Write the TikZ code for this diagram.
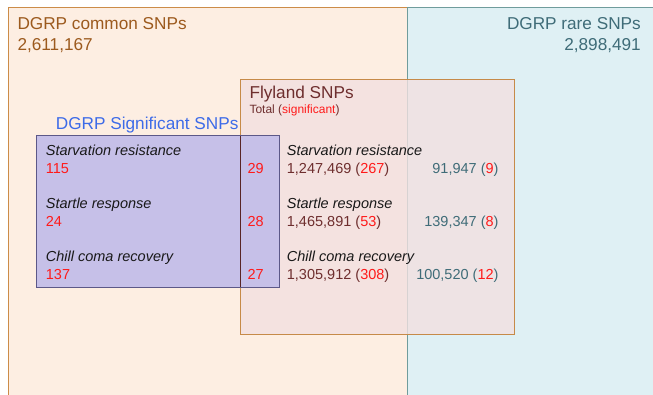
\documentclass[tikz,border=0pt]{standalone}
\usepackage{fontspec}
\setmainfont{Liberation Sans}
\definecolor{commonfill}{HTML}{FDEEE2}
\definecolor{commonedge}{HTML}{CC8C48}
\definecolor{commontext}{HTML}{9C5A1E}
\definecolor{rarefill}{HTML}{DFF0F4}
\definecolor{rareedge}{HTML}{6F9C9C}
\definecolor{raretext}{HTML}{3F6C78}
\definecolor{flyfill}{HTML}{F2E0E0}
\definecolor{flyedge}{HTML}{C68A48}
\definecolor{flytext}{HTML}{6E2E2E}
\definecolor{sigfill}{HTML}{C6C0E8}
\definecolor{sigedge}{HTML}{5C5888}
\definecolor{sigtext}{HTML}{3D6BE8}
\definecolor{sigred}{HTML}{FF1A1A}
\usetikzlibrary{positioning}
\newcommand{\headfont}{\fontsize{17.2}{20}\selectfont}
\newcommand{\midfont}{\fontsize{14.5}{17}\selectfont}
\newcommand{\tinyfont}{\fontsize{12}{14}\selectfont}
\newcommand{\sig}[1]{\textcolor{sigred}{#1}}

\begin{document}
\begin{tikzpicture}[x=1pt, y=-1pt,
  lbl/.style={inner sep=0pt, anchor=base west},
  rlbl/.style={inner sep=0pt, anchor=base east},
  trait/.style={lbl, font=\midfont\itshape, text=black!90},
  count/.style={lbl, font=\midfont, text=sigred},
  flycount/.style={lbl, font=\midfont, text=flytext},
  rarecount/.style={rlbl, font=\midfont, text=raretext}]
\useasboundingbox (0,0) rectangle (653,395);
\clip (0,0) rectangle (653,395);

% the two DGRP sets
\draw[commonedge, fill=commonfill, line width=1pt] (8,8) rectangle (407,402);
\draw[rareedge, fill=rarefill, line width=1pt] (407,8) rectangle (662,402);
\node[lbl, font=\headfont, text=commontext] (common) at (17.3,29.3) {DGRP common SNPs};
\node[lbl, font=\headfont, text=commontext] (commonn) at (17.3,50.7) {2,611,167};
\node[rlbl, font=\headfont, text=raretext] (rare) at (641,29.3) {DGRP rare SNPs};
\node[rlbl, font=\headfont, text=raretext] (raren) at (641,50.7) {2,898,491};

% Flyland set
\draw[flyedge, fill=flyfill, fill opacity=0.8, line width=1pt] (240,80) rectangle (514,334);
\node[lbl, font=\headfont, text=flytext] (fly) at (249.3,99) {Flyland SNPs};
\node[lbl, font=\tinyfont, text=flytext] (flytot) at (249.3,113.3) {Total (\sig{significant})};

% significant set
\draw[sigedge, fill=sigfill, line width=1pt] (36,136) rectangle (279,288);
\draw[flytext!80!black, line width=1pt] (240,136.5) -- (240,287.5);
\node[lbl, font=\headfont, text=sigtext] (sighead) at (55.7,130) {DGRP Significant SNPs};

\node[trait] (starv) at (45.7,155.7) {Starvation resistance};
\node[count] (starvn) at (45.7,173.3) {115};
\node[trait] (startle) at (45.7,208.5) {Startle response};
\node[count] (startlen) at (45.7,226.7) {24};
\node[trait] (chill) at (45.7,261.2) {Chill coma recovery};
\node[count] (chilln) at (45.7,279.6) {137};

\node[count] (starvboth) at (247.3,173.3) {29};
\node[count] (startleboth) at (247.3,226.7) {28};
\node[count] (chillboth) at (247.3,279.6) {27};

\node[trait] (flystarv) at (286.7,155.7) {Starvation resistance};
\node[flycount] (flystarvn) at (286.7,173.3) {1,247,469 (\sig{267})};
\node[trait] (flystartle) at (286.7,208.5) {Startle response};
\node[flycount] (flystartlen) at (286.7,226.7) {1,465,891 (\sig{53})};
\node[trait] (flychill) at (286.7,261.2) {Chill coma recovery};
\node[flycount] (flychilln) at (286.7,279.6) {1,305,912 (\sig{308})};

\node[rarecount] (rarestarvn) at (498.7,173.3) {91,947 (\sig{9})};
\node[rarecount] (rarestartlen) at (498.7,226.7) {139,347 (\sig{8})};
\node[rarecount] (rarechilln) at (498.7,279.6) {100,520 (\sig{12})};

\end{tikzpicture}
\end{document}
